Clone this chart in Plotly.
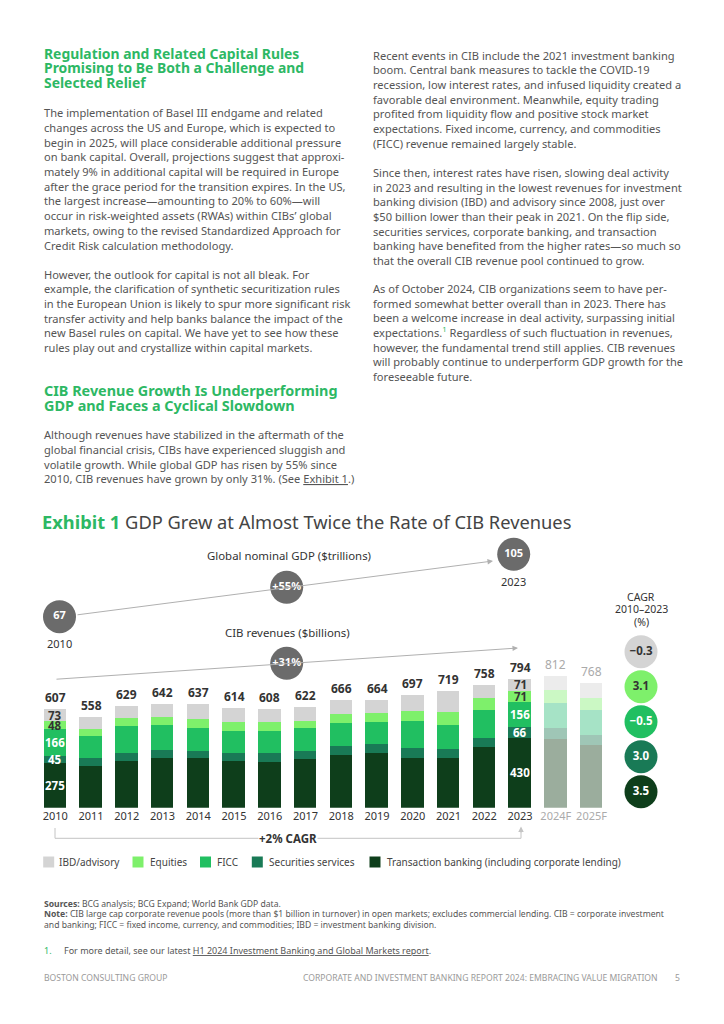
import plotly.graph_objects as go

# page is 724x1024; the browser body has an 8px margin, so the figure is
# drawn 8px in and made smaller so nothing overflows.
PAGE_W, PAGE_H = 724, 1024
OFF = 8
W, H = PAGE_W - 2 * OFF, PAGE_H - 2 * OFF
FONT = "Noto Sans"
BODY = "#555555"
DARK = "#333333"
GREEN = "#2DB864"

# ---------------- data ----------------
years = ["2010", "2011", "2012", "2013", "2014", "2015", "2016", "2017",
         "2018", "2019", "2020", "2021", "2022", "2023", "2024F", "2025F"]
forecast = [False] * 14 + [True] * 2
transaction = [275, 259, 290, 308, 307, 290, 284, 299, 325, 337, 308, 308, 374, 430, 424, 385]
securities = [45, 48, 47, 50, 45, 49, 52, 53, 56, 58, 58, 56, 58, 66, 68, 64]
ficc = [166, 133, 169, 152, 142, 132, 139, 138, 140, 132, 171, 146, 173, 156, 156, 156]
equities = [48, 45, 47, 50, 53, 58, 54, 47, 59, 57, 60, 82, 74, 71, 78, 74]
ibd = [73, 73, 76, 82, 90, 85, 79, 85, 86, 80, 100, 127, 79, 71, 86, 89]
totals = [607, 558, 629, 642, 637, 614, 608, 622, 666, 664, 697, 719, 758, 794, 812, 768]

series_names = ["Transaction banking (including corporate lending)", "Securities services",
                "FICC", "Equities", "IBD/advisory"]
series_values = [transaction, securities, ficc, equities, ibd]
series_colors = ["#0E3E1B", "#197A56", "#21BF61", "#7EF06B", "#D4D4D4"]
series_faded = ["#9BAD9D", "#9FC6B6", "#A6E3C6", "#CBF8C4", "#ECECEC"]
label_colors = ["white", "white", "white", DARK, DARK]

cagr_values = [-0.3, 3.1, -0.5, 3.0, 3.5]          # IBD, Equities, FICC, Securities, Transaction
cagr_colors = ["#D4D4D4", "#7EF06B", "#21BF61", "#197A56", "#0E3E1B"]
cagr_text_colors = [DARK, DARK, "white", "white", "white"]

gdp_years = ["2010", "2023"]
gdp_values = [67, 105]
gdp_growth = "+55%"
cib_growth = "+31%"
cib_cagr = "+2% CAGR"

legend_order = ["IBD/advisory", "Equities", "FICC", "Securities services",
                "Transaction banking (including corporate lending)"]

fig = go.Figure()

# ---------------- bars ----------------
for name, vals, col, fcol in zip(series_names, series_values, series_colors, series_faded):
    fig.add_trace(go.Bar(
        x=list(range(len(years))), y=vals, name=name, width=0.63,
        marker=dict(color=[fcol if f else col for f in forecast], line=dict(width=0)),
        showlegend=False, hoverinfo="skip", xaxis="x", yaxis="y"))

annotations = []
shapes = []

def px(x, y, text, size=11.5, color=BODY, xanchor="left", bold=False, yanchor="middle", **kw):
    if bold:
        text = "<b>" + text + "</b>"
    annotations.append(dict(x=x, y=y, xref="x2", yref="y2", text=text, showarrow=False,
                            xanchor=xanchor, yanchor=yanchor, borderpad=0,
                            font=dict(family=FONT, size=size, color=color), **kw))

# totals above bars
for i, (t, f) in enumerate(zip(totals, forecast)):
    annotations.append(dict(x=i, y=t, xref="x", yref="y", text=f"<b>{t}</b>" if not f else f"{t}",
                            showarrow=False, yanchor="bottom", yshift=1,
                            font=dict(family=FONT, size=12, color="#AAAAAA" if f else DARK)))

# segment labels for 2010 and 2023
for idx in (0, 13):
    base = 0
    for vals, lc in zip(series_values, label_colors):
        v = vals[idx]
        annotations.append(dict(x=idx, y=base + v / 2, xref="x", yref="y", text=f"<b>{v}</b>",
                                showarrow=False, borderpad=0,
                                font=dict(family=FONT, size=11.5, color=lc)))
        base += v

# ---------------- top decorations ----------------
line_col = "#B0B0B0"
annotations.append(dict(x=493, y=561, ax=76, ay=615, xref="x2", yref="y2", axref="x2", ayref="y2",
                        text="", showarrow=True, arrowhead=2, arrowsize=1.1, arrowwidth=1,
                        arrowcolor=line_col))
annotations.append(dict(x=518, y=648, ax=55, ay=679.3, xref="x2", yref="y2", axref="x2", ayref="y2",
                        text="", showarrow=True, arrowhead=2, arrowsize=1.1, arrowwidth=1,
                        arrowcolor=line_col))

circ_x = [59.5, 286.7, 513.7, 286.7]
circ_y = [616.7, 587.3, 554.3, 663.3]
circ_t = [str(gdp_values[0]), gdp_growth, str(gdp_values[1]), cib_growth]
fig.add_trace(go.Scatter(x=circ_x, y=circ_y, mode="markers+text", text=[f"<b>{t}</b>" for t in circ_t],
                         textposition="middle center",
                         marker=dict(size=33, color="#6B6B6B", line=dict(width=0)),
                         textfont=dict(family=FONT, size=11, color="white"),
                         xaxis="x2", yaxis="y2", showlegend=False, hoverinfo="skip"))
px(59.5, 643.3, gdp_years[0], size=11, color=DARK, xanchor="center")
px(513.7, 581.7, gdp_years[1], size=11, color=DARK, xanchor="center")
px(289, 555.3, "Global nominal GDP ($trillions)", size=11.4, color=DARK, xanchor="center")
px(287, 632.7, "CIB revenues ($billions)", size=11.4, color=DARK, xanchor="center")

# CAGR column
px(641, 596.7, "CAGR", size=10.5, color=DARK, xanchor="center")
px(641, 609, "2010–2023", size=10.5, color=DARK, xanchor="center")
px(641, 621.5, "(%)", size=10.5, color=DARK, xanchor="center")
cagr_y = [651.7, 686.7, 721.7, 756.7, 791.7]
fig.add_trace(go.Scatter(x=[641] * 5, y=cagr_y, mode="markers+text",
                         text=[f"<b>{v:.1f}</b>".replace("-", "−") for v in cagr_values],
                         textposition="middle center",
                         marker=dict(size=33, color=cagr_colors, line=dict(width=0)),
                         textfont=dict(family=FONT, size=11.5, color=cagr_text_colors),
                         xaxis="x2", yaxis="y2", showlegend=False, hoverinfo="skip"))

# bracket +2% CAGR
shapes.append(dict(type="path", xref="x2", yref="y2", path="M 55 828 L 55 838.3 L 521 838.3 L 521 832",
                   line=dict(color="#C4C4C4", width=1)))
annotations.append(dict(x=521, y=826.5, ax=521, ay=834, xref="x2", yref="y2", axref="x2", ayref="y2",
                        text="", showarrow=True, arrowhead=2, arrowsize=1.1, arrowwidth=1,
                        arrowcolor="#C4C4C4"))
px(288, 838.3, cib_cagr, size=11.5, color=DARK, xanchor="center", bold=True, bgcolor="white")

# legend (manual)
leg_sq_x = [48.7, 138, 205.5, 257.3, 375]
leg_tx_x = [58.3, 149, 216, 268, 386]
leg_cols = [series_colors[series_names.index(n)] for n in legend_order]
fig.add_trace(go.Scatter(x=leg_sq_x, y=[862] * 5, mode="markers",
                         marker=dict(symbol="square", size=11, color=leg_cols, line=dict(width=0)),
                         xaxis="x2", yaxis="y2", showlegend=False, hoverinfo="skip"))
for n, tx in zip(legend_order, leg_tx_x):
    px(tx, 862, n, size=10, color="#444444")

# ---------------- page text ----------------
def block(lines, x, y0, dy=14.7, size=11.1, color=BODY, bold=False):
    for k, ln in enumerate(lines):
        px(x, y0 + k * dy, ln, size=size, color=color, bold=bold)

UL = f"text-decoration:underline;text-decoration-color:{GREEN}"

block(["Regulation and Related Capital Rules",
       "Promising to Be Both a Challenge and",
       "Selected Relief"], 43, 53.3, dy=14.6, size=13.9, color=GREEN, bold=True)
block(["The implementation of Basel III endgame and related",
       "changes across the US and Europe, which is expected to",
       "begin in 2025, will place considerable additional pressure",
       "on bank capital. Overall, projections suggest that approxi-",
       "mately 9% in additional capital will be required in Europe",
       "after the grace period for the transition expires. In the US,",
       "the largest increase—amounting to 20% to 60%—will",
       "occur in risk-weighted assets (RWAs) within CIBs’ global",
       "markets, owing to the revised Standardized Approach for",
       "Credit Risk calculation methodology."], 43, 112.7)
block(["However, the outlook for capital is not all bleak. For",
       "example, the clarification of synthetic securitization rules",
       "in the European Union is likely to spur more significant risk",
       "transfer activity and help banks balance the impact of the",
       "new Basel rules on capital. We have yet to see how these",
       "rules play out and crystallize within capital markets."], 43, 274)
block(["CIB Revenue Growth Is Underperforming",
       "GDP and Faces a Cyclical Slowdown"], 43, 390.7, dy=14.4, size=14.4, color=GREEN, bold=True)
block(["Although revenues have stabilized in the aftermath of the",
       "global financial crisis, CIBs have experienced sluggish and",
       "volatile growth. While global GDP has risen by 55% since",
       "2010, CIB revenues have grown by only 31%. (See "
       f"<span style='{UL}'>Exhibit 1</span>.)"], 43, 434.7)

block(["Recent events in CIB include the 2021 investment banking",
       "boom. Central bank measures to tackle the COVID-19",
       "recession, low interest rates, and infused liquidity created a",
       "favorable deal environment. Meanwhile, equity trading",
       "profited from liquidity flow and positive stock market",
       "expectations. Fixed income, currency, and commodities",
       "(FICC) revenue remained largely stable."], 372, 55)
block(["Since then, interest rates have risen, slowing deal activity",
       "in 2023 and resulting in the lowest revenues for investment",
       "banking division (IBD) and advisory since 2008, just over",
       "$50 billion lower than their peak in 2021. On the flip side,",
       "securities services, corporate banking, and transaction",
       "banking have benefited from the higher rates—so much so",
       "that the overall CIB revenue pool continued to grow."], 372, 172.3)
block(["As of October 2024, CIB organizations seem to have per-",
       "formed somewhat better overall than in 2023. There has",
       "been a welcome increase in deal activity, surpassing initial",
       f"expectations.<sup><span style='color:{GREEN}'>1</span></sup> Regardless of such fluctuation in revenues,",
       "however, the fundamental trend still applies. CIB revenues",
       "will probably continue to underperform GDP growth for the",
       "foreseeable future."], 372, 288.3)

# exhibit title
px(41, 521, f"<b><span style='color:{GREEN}'>Exhibit 1</span></b> GDP Grew at Almost Twice the Rate of CIB Revenues",
   size=18.3, color="#444444")

# footnotes
px(43, 903.5, "<b>Sources:</b> BCG analysis; BCG Expand; World Bank GDP data.", size=8.6, color=BODY)
px(43, 914, "<b>Note:</b> CIB large cap corporate revenue pools (more than $1 billion in turnover) in open markets; "
   "excludes commercial lending. CIB = corporate investment", size=8.6, color=BODY)
px(43, 925, "and banking; FICC = fixed income, currency, and commodities; IBD = investment banking division.",
   size=8.6, color=BODY)
px(43, 950.5, f"<span style='color:{GREEN}'>1.</span>", size=9, color=BODY)
px(63, 950.5, "For more detail, see our latest "
   f"<span style='{UL}'>H1 2024 Investment Banking and Global Markets report</span>.",
   size=9, color=BODY)
px(43, 977.5, "BOSTON CONSULTING GROUP", size=8.6, color="#9A9A9A")
px(659, 977.5, "CORPORATE AND INVESTMENT BANKING REPORT 2024: EMBRACING VALUE MIGRATION",
   size=8.6, color="#9A9A9A", xanchor="right")
px(677, 977.5, "5", size=8.6, color="#9A9A9A", xanchor="center")

# ---------------- layout ----------------
def fx(p):   # page x pixel -> figure paper fraction
    return (p - OFF) / W

def fy(p):   # page y pixel -> figure paper fraction
    return 1 - (p - OFF) / H

y_bottom_px, y_top_px = 807.7, 640
px_per_unit = 0.1621
fig.update_layout(
    width=W, height=H, margin=dict(l=0, r=0, t=0, b=0, autoexpand=False),
    paper_bgcolor="white", plot_bgcolor="rgba(0,0,0,0)",
    barmode="stack", bargap=0, showlegend=False,
    font=dict(family=FONT, color=BODY),
    xaxis=dict(domain=[fx(37.4), fx(609.4)], range=[-0.5, 15.5], anchor="y",
               tickvals=list(range(len(years))),
               ticktext=[f"<span style='color:#ABABAB'>{y}</span>" if f else y for y, f in zip(years, forecast)],
               ticks="", showline=False, showgrid=False, zeroline=False,
               tickfont=dict(family=FONT, size=11, color=DARK), fixedrange=True),
    yaxis=dict(domain=[fy(y_bottom_px), fy(y_top_px)],
               range=[0, (y_bottom_px - y_top_px) / px_per_unit], anchor="x",
               visible=False, fixedrange=True),
    xaxis2=dict(domain=[0, 1], range=[OFF, OFF + W], anchor="y2", visible=False, fixedrange=True),
    yaxis2=dict(domain=[0, 1], range=[OFF + H, OFF], anchor="x2", visible=False, fixedrange=True),
    annotations=annotations, shapes=shapes,
)

fig.write_html("out.html")
